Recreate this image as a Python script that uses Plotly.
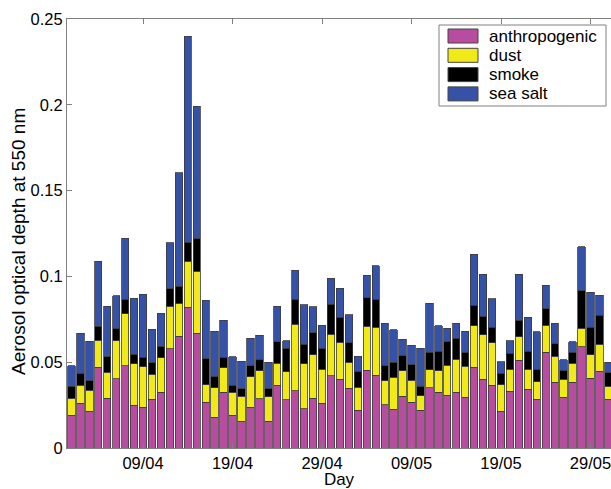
import pandas as pd
import plotly.graph_objects as go

# Daily aerosol optical depth at 550 nm, split by aerosol type (1 April - 31 May)
days = pd.date_range("2008-04-01", "2008-05-31", freq="D")

anthropogenic = [
    0.0190, 0.0260, 0.0214, 0.0472, 0.0291, 0.0404, 0.0478, 0.0249, 0.0237, 0.0284,
    0.0326, 0.0577, 0.0651, 0.0821, 0.0668, 0.0266, 0.0179, 0.0324, 0.0192, 0.0155,
    0.0237, 0.0286, 0.0155, 0.0365, 0.0280, 0.0333, 0.0229, 0.0289, 0.0260, 0.0420,
    0.0400, 0.0348, 0.0220, 0.0453, 0.0424, 0.0252, 0.0225, 0.0301, 0.0266, 0.0220,
    0.0350, 0.0324, 0.0308, 0.0324, 0.0295, 0.0472, 0.0400, 0.0365, 0.0214, 0.0332,
    0.0511, 0.0342, 0.0284, 0.0558, 0.0383, 0.0295, 0.0383, 0.0589, 0.0406, 0.0447,
    0.0284,
]
dust = [
    0.0100, 0.0107, 0.0122, 0.0157, 0.0150, 0.0221, 0.0305, 0.0241, 0.0237, 0.0145,
    0.0200, 0.0249, 0.0192, 0.0266, 0.0361, 0.0103, 0.0171, 0.0144, 0.0132, 0.0146,
    0.0177, 0.0163, 0.0144, 0.0130, 0.0163, 0.0389, 0.0261, 0.0253, 0.0200, 0.0242,
    0.0216, 0.0151, 0.0134, 0.0256, 0.0281, 0.0140, 0.0187, 0.0150, 0.0130, 0.0085,
    0.0105, 0.0125, 0.0174, 0.0193, 0.0181, 0.0239, 0.0259, 0.0247, 0.0155, 0.0128,
    0.0138, 0.0118, 0.0102, 0.0157, 0.0153, 0.0107, 0.0112, 0.0109, 0.0136, 0.0159,
    0.0077,
]
smoke = [
    0.0070, 0.0068, 0.0056, 0.0080, 0.0091, 0.0070, 0.0083, 0.0056, 0.0054, 0.0068,
    0.0068, 0.0102, 0.0101, 0.0111, 0.0189, 0.0150, 0.0064, 0.0062, 0.0043, 0.0045,
    0.0064, 0.0066, 0.0047, 0.0123, 0.0138, 0.0144, 0.0116, 0.0130, 0.0121, 0.0177,
    0.0147, 0.0113, 0.0089, 0.0167, 0.0163, 0.0088, 0.0089, 0.0087, 0.0088, 0.0056,
    0.0104, 0.0116, 0.0136, 0.0124, 0.0082, 0.0120, 0.0110, 0.0093, 0.0066, 0.0092,
    0.0095, 0.0105, 0.0073, 0.0097, 0.0072, 0.0047, 0.0064, 0.0217, 0.0161, 0.0169,
    0.0078,
]
sea_salt = [
    0.0120, 0.0235, 0.0230, 0.0379, 0.0295, 0.0191, 0.0356, 0.0326, 0.0368, 0.0195,
    0.0191, 0.0269, 0.0660, 0.1201, 0.0773, 0.0342, 0.0266, 0.0214, 0.0165, 0.0159,
    0.0163, 0.0142, 0.0153, 0.0209, 0.0043, 0.0170, 0.0229, 0.0150, 0.0134, 0.0150,
    0.0168, 0.0165, 0.0091, 0.0130, 0.0193, 0.0247, 0.0187, 0.0097, 0.0114, 0.0220,
    0.0284, 0.0148, 0.0080, 0.0087, 0.0122, 0.0298, 0.0243, 0.0165, 0.0068, 0.0072,
    0.0268, 0.0197, 0.0219, 0.0136, 0.0119, 0.0066, 0.0060, 0.0258, 0.0204, 0.0115,
    0.0060,
]

series_names = ["anthropogenic", "dust", "smoke", "sea salt"]
series_values = [anthropogenic, dust, smoke, sea_salt]
series_colors = ["#B84C9E", "#F2EA18", "#000000", "#3652A6"]

x_tick_dates = ["2008-04-09", "2008-04-19", "2008-04-29", "2008-05-09", "2008-05-19", "2008-05-29"]
x_tick_labels = ["09/04", "19/04", "29/04", "09/05", "19/05", "29/05"]
y_tick_vals = [0, 0.05, 0.1, 0.15, 0.2, 0.25]
y_tick_labels = ["0", "0.05", "0.1", "0.15", "0.2", "0.25"]

FONT = "Liberation Sans, Arial, sans-serif"
AXIS_GREY = "#808080"

fig = go.Figure()
for name, vals, col in zip(series_names, series_values, series_colors):
    fig.add_trace(go.Bar(
        x=days, y=vals, name=name,
        marker=dict(color=col, line=dict(color="#3c3c3c", width=0.8)),
        showlegend=False,
    ))

W, H = 611, 489
M_L, M_R, M_T, M_B = 67, 0, 19, 41
plot_w, plot_h = W - M_L - M_R, H - M_T - M_B


def px_x(x):
    return (x - M_L) / plot_w


def px_y(y):
    return (H - M_B - y) / plot_h


# legend box drawn as shapes plus text
shapes = [dict(type="rect", xref="paper", yref="paper",
               x0=px_x(439), x1=px_x(606), y0=px_y(106), y1=px_y(25),
               line=dict(color=AXIS_GREY, width=1), fillcolor="white", layer="above")]
annotations = []
row_top = 29
for i, (name, col) in enumerate(zip(series_names, series_colors)):
    top = row_top + i * 19.3
    shapes.append(dict(type="rect", xref="paper", yref="paper",
                       x0=px_x(448), x1=px_x(478), y0=px_y(top + 14), y1=px_y(top),
                       line=dict(color="#444444", width=1), fillcolor=col, layer="above"))
    annotations.append(dict(xref="paper", yref="paper", x=px_x(487), y=px_y(top + 7),
                            text=name, showarrow=False, xanchor="left", yanchor="middle",
                            font=dict(family=FONT, size=17, color="black")))

# y-axis title
annotations.append(dict(xref="paper", yref="paper", x=px_x(18), y=px_y(242),
                        text="Aerosol optical depth at 550 nm", textangle=-90,
                        showarrow=False, xanchor="center", yanchor="middle",
                        font=dict(family=FONT, size=19, color="black")))

fig.update_layout(
    width=W, height=H,
    margin=dict(l=M_L, r=M_R, t=M_T, b=M_B, pad=0),
    barmode="stack", bargap=0.18,
    plot_bgcolor="white", paper_bgcolor="white",
    font=dict(family=FONT, size=16.5, color="black"),
    shapes=shapes, annotations=annotations,
)
fig.update_xaxes(
    range=["2008-03-31 12:00", "2008-05-31 07:00"],
    tickvals=x_tick_dates, ticktext=x_tick_labels,
    ticks="inside", ticklen=5, tickcolor=AXIS_GREY,
    showline=True, linecolor=AXIS_GREY, linewidth=1, mirror="ticks",
    showgrid=False, zeroline=False,
    ticklabeloverflow="allow",
    title=dict(text="Day", standoff=4, font=dict(size=17)),
    tickfont=dict(size=16.5),
)
fig.update_yaxes(
    range=[0, 0.25],
    tickvals=y_tick_vals, ticktext=y_tick_labels,
    ticks="inside", ticklen=5, tickcolor=AXIS_GREY,
    showline=True, linecolor=AXIS_GREY, linewidth=1, mirror=False,
    showgrid=False, zeroline=False,
    ticklabeloverflow="allow",
    tickfont=dict(size=16.5),
)

fig.write_html("out.html")
